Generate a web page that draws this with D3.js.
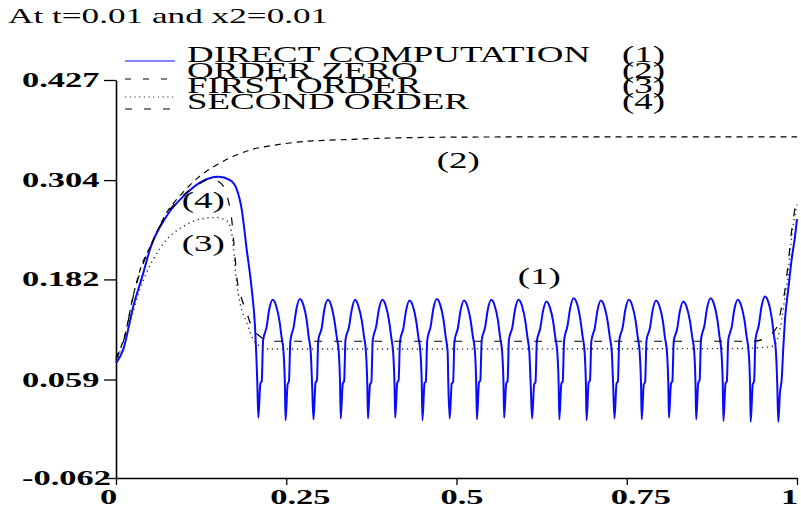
<!DOCTYPE html>
<html>
<head>
<meta charset="utf-8">
<script src="https://cdn.jsdelivr.net/npm/d3@7"></script>
<style>
  body { margin: 0; background: #fff; }
  text { font-family: "Liberation Serif", "Times New Roman", serif; fill: #000; }
</style>
</head>
<body>
<svg id="chart" width="801" height="512"></svg>
<script>
// ---- data ----
const title = "At t=0.01 and x2=0.01";

const xTickValues = [0, 0.25, 0.5, 0.75, 1];
const xTickLabels = ["0", "0.25", "0.5", "0.75", "1"];
const yTickValues = [-0.062, 0.059, 0.182, 0.304, 0.427];
const yTickLabels = ["-0.062", "0.059", "0.182", "0.304", "0.427"];

const legendNames = ["DIRECT COMPUTATION", "ORDER ZERO", "FIRST ORDER", "SECOND ORDER"];
const legendTags = ["(1)", "(2)", "(3)", "(4)"];

// curve tags written inside the plot (data coordinates)
const tagTexts = ["(1)", "(2)", "(3)", "(4)"];
const tagX = [0.590, 0.471, 0.0965, 0.0965];
const tagY = [0.176, 0.319, 0.217, 0.270];

// (1) direct computation
const directX = [
  0, 0.0107, 0.0254, 0.0401, 0.0499, 0.0744, 0.0988, 0.1233, 0.1502, 0.1674, 0.1772, 0.1846, 0.1919, 0.1993, 0.2041, 0.2075,
  0.209, 0.212, 0.214, 0.216, 0.221, 0.225, 0.230, 0.235, 0.240, 0.243, 0.246, 0.248,
  0.249, 0.252, 0.254, 0.256, 0.261, 0.265, 0.270, 0.275, 0.280, 0.283, 0.286, 0.288,
  0.290, 0.293, 0.295, 0.297, 0.302, 0.306, 0.311, 0.316, 0.321, 0.324, 0.327, 0.329,
  0.330, 0.333, 0.335, 0.337, 0.342, 0.346, 0.351, 0.356, 0.361, 0.364, 0.367, 0.369,
  0.370, 0.373, 0.375, 0.377, 0.382, 0.386, 0.391, 0.396, 0.401, 0.404, 0.407, 0.409,
  0.410, 0.413, 0.415, 0.417, 0.422, 0.426, 0.431, 0.436, 0.441, 0.444, 0.447, 0.449,
  0.450, 0.453, 0.455, 0.457, 0.462, 0.466, 0.471, 0.476, 0.481, 0.484, 0.487, 0.488,
  0.490, 0.493, 0.495, 0.497, 0.502, 0.506, 0.511, 0.516, 0.521, 0.524, 0.527, 0.529,
  0.530, 0.533, 0.535, 0.537, 0.542, 0.546, 0.551, 0.556, 0.561, 0.564, 0.567, 0.569,
  0.570, 0.573, 0.575, 0.577, 0.582, 0.586, 0.591, 0.596, 0.601, 0.604, 0.607, 0.609,
  0.611, 0.614, 0.616, 0.618, 0.623, 0.627, 0.632, 0.637, 0.642, 0.645, 0.648, 0.650,
  0.651, 0.654, 0.656, 0.658, 0.663, 0.667, 0.672, 0.677, 0.682, 0.685, 0.688, 0.690,
  0.691, 0.694, 0.696, 0.698, 0.703, 0.707, 0.712, 0.717, 0.722, 0.725, 0.728, 0.730,
  0.732, 0.735, 0.737, 0.739, 0.744, 0.748, 0.753, 0.758, 0.763, 0.766, 0.769, 0.771,
  0.772, 0.775, 0.777, 0.779, 0.784, 0.788, 0.793, 0.798, 0.803, 0.806, 0.809, 0.811,
  0.812, 0.815, 0.817, 0.819, 0.824, 0.828, 0.833, 0.838, 0.843, 0.846, 0.849, 0.851,
  0.852, 0.855, 0.857, 0.859, 0.864, 0.868, 0.873, 0.878, 0.883, 0.886, 0.889, 0.891,
  0.892, 0.895, 0.897, 0.899, 0.904, 0.908, 0.913, 0.918, 0.923, 0.926, 0.929, 0.931,
  0.932, 0.935, 0.937, 0.939, 0.944, 0.948, 0.953, 0.958, 0.963, 0.966, 0.969, 0.971,
  0.9725, 0.975, 0.9775, 0.980, 0.9824, 0.9872, 0.9922, 0.9971, 1.0
];
const directY = [
  0.079, 0.096, 0.149, 0.190, 0.219, 0.260, 0.284, 0.301, 0.308, 0.304, 0.293, 0.268, 0.219, 0.170, 0.124, 0.055,
  0.012, 0.054, 0.057, 0.107, 0.123, 0.145, 0.157, 0.150, 0.131, 0.112, 0.093, 0.053,
  0.009, 0.053, 0.057, 0.106, 0.124, 0.146, 0.158, 0.151, 0.132, 0.111, 0.092, 0.052,
  0.010, 0.055, 0.058, 0.107, 0.122, 0.145, 0.157, 0.150, 0.130, 0.112, 0.094, 0.054,
  0.011, 0.054, 0.057, 0.108, 0.123, 0.144, 0.157, 0.149, 0.131, 0.113, 0.093, 0.053,
  0.011, 0.053, 0.056, 0.107, 0.124, 0.145, 0.157, 0.150, 0.131, 0.112, 0.092, 0.052,
  0.012, 0.055, 0.058, 0.106, 0.122, 0.144, 0.156, 0.149, 0.130, 0.111, 0.093, 0.054,
  0.009, 0.054, 0.057, 0.107, 0.124, 0.146, 0.158, 0.151, 0.132, 0.112, 0.093, 0.053,
  0.011, 0.054, 0.056, 0.106, 0.122, 0.144, 0.156, 0.149, 0.130, 0.112, 0.094, 0.053,
  0.010, 0.055, 0.058, 0.107, 0.123, 0.145, 0.157, 0.150, 0.131, 0.111, 0.093, 0.054,
  0.012, 0.054, 0.057, 0.108, 0.123, 0.145, 0.157, 0.150, 0.131, 0.112, 0.092, 0.052,
  0.011, 0.053, 0.056, 0.106, 0.122, 0.143, 0.155, 0.148, 0.130, 0.111, 0.093, 0.053,
  0.010, 0.054, 0.057, 0.107, 0.125, 0.147, 0.159, 0.152, 0.132, 0.113, 0.094, 0.054,
  0.009, 0.055, 0.058, 0.106, 0.122, 0.144, 0.156, 0.149, 0.130, 0.112, 0.093, 0.053,
  0.011, 0.054, 0.057, 0.107, 0.123, 0.145, 0.157, 0.150, 0.131, 0.112, 0.092, 0.052,
  0.010, 0.053, 0.056, 0.107, 0.122, 0.144, 0.156, 0.149, 0.131, 0.111, 0.093, 0.054,
  0.012, 0.054, 0.057, 0.106, 0.121, 0.143, 0.155, 0.148, 0.130, 0.112, 0.094, 0.053,
  0.010, 0.055, 0.058, 0.108, 0.125, 0.147, 0.159, 0.152, 0.133, 0.113, 0.093, 0.053,
  0.008, 0.054, 0.057, 0.107, 0.123, 0.145, 0.157, 0.150, 0.131, 0.112, 0.093, 0.054,
  0.007, 0.053, 0.057, 0.108, 0.126, 0.149, 0.161, 0.154, 0.134, 0.114, 0.094, 0.053,
  0.007, 0.043, 0.059, 0.100, 0.133, 0.170, 0.207, 0.235, 0.256
];

// (2) order zero
const orderZeroX = [0, 0.0132, 0.025, 0.0367, 0.05, 0.0744, 0.0984, 0.1233, 0.1483, 0.1718, 0.1968, 0.2335, 0.2702, 0.3436, 0.417, 0.5639, 0.75, 1.0];
const orderZeroY = [0.086, 0.114, 0.161, 0.197, 0.222, 0.264, 0.289, 0.309, 0.323, 0.333, 0.341, 0.347, 0.351, 0.354, 0.356, 0.357, 0.357, 0.357];

// (3) first order
const firstOrderX = [0, 0.0029, 0.0206, 0.0352, 0.0543, 0.0744, 0.0988, 0.1233, 0.1479, 0.1626, 0.1699, 0.1722, 0.1747, 0.1772, 0.1821, 0.1919, 0.2016, 0.2115, 0.2213,
  0.9075, 0.9578, 0.9652, 0.9677, 0.9725, 0.9775, 0.9824, 0.9872, 0.9897, 0.9922, 0.9960, 1.0];
const firstOrderY = [0.081, 0.087, 0.129, 0.170, 0.206, 0.231, 0.247, 0.256, 0.258, 0.254, 0.239, 0.223, 0.198, 0.178, 0.153, 0.129, 0.108, 0.0997, 0.0965,
  0.097, 0.099, 0.100, 0.102, 0.112, 0.133, 0.161, 0.190, 0.215, 0.235, 0.256, 0.274];

// (4) second order
const secondOrderX = [0, 0.0132, 0.025, 0.0367, 0.05, 0.0744, 0.0984, 0.1233, 0.138, 0.1527, 0.1645, 0.1699, 0.1722, 0.1747, 0.1772, 0.1821, 0.1919, 0.2016, 0.2085, 0.2144, 0.2261,
  0.935, 0.9578, 0.9652, 0.9725, 0.9775, 0.9824, 0.9848, 0.9872, 0.9897, 0.9922, 0.9960, 1.0];
const secondOrderY = [0.083, 0.113, 0.160, 0.194, 0.221, 0.262, 0.285, 0.300, 0.305, 0.301, 0.280, 0.256, 0.235, 0.211, 0.186, 0.166, 0.141, 0.120, 0.114, 0.110, 0.106,
  0.106, 0.112, 0.117, 0.1285, 0.149, 0.1695, 0.186, 0.202, 0.223, 0.243, 0.264, 0.2825];

const series = [
  d3.zip(directX, directY),
  d3.zip(orderZeroX, orderZeroY),
  d3.zip(firstOrderX, firstOrderY),
  d3.zip(secondOrderX, secondOrderY)
];

// ---- styling ----
const lineStyles = [
  { stroke: "#0a0aff", width: 2, dash: null, legendDash: null, legendWidth: 1.1 },
  { stroke: "#000", width: 1.2, dash: "6,5", legendDash: "6,12", legendWidth: 1.1 },
  { stroke: "#333", width: 1.4, dash: "1.3,3.7", legendDash: "1.2,3.5", legendWidth: 1.2 },
  { stroke: "#000", width: 1.2, dash: "8,12", legendDash: "7,12", legendWidth: 1.1 }
];
const legendTextY = [61.5, 77.5, 93, 108.5];
const legendLineY = [61, 79, 97, 109];
const stretch = 1.64; // glyphs in the original are drawn wide

const svg = d3.select("#chart");

let x = d3.scaleLinear().domain([0, 1]).range([116, 797]);
let y = d3.scaleLinear().domain([-0.062, 0.427]).range([478, 80]);

// title
svg.append("text")
   .attr("transform", `translate(8,23) scale(1.6,1)`)
   .style("font-size", "22px")
   .text(title);

// axes
let xAxis = svg.append("g")
   .attr("transform", "translate(0,478)")
   .call(d3.axisBottom(x).tickValues(xTickValues).tickSize(7).tickSizeOuter(0).tickFormat(""));
let yAxis = svg.append("g")
   .attr("transform", "translate(116,0)")
   .call(d3.axisLeft(y).tickValues(yTickValues).tickSize(12).tickSizeOuter(0).tickFormat(""));
[xAxis, yAxis].forEach(g => {
  g.select(".domain").attr("stroke", "#000").attr("stroke-width", 1.6);
  g.selectAll(".tick line").attr("stroke", "#000").attr("stroke-width", 1.3);
});

svg.append("g")
   .selectAll("text")
   .data(xTickValues)
   .join("text")
   .attr("transform", d => `translate(${x(d) - 16},504) scale(${stretch},1)`)
   .style("font-size", "21px")
   .style("font-weight", "bold")
   .text((d, i) => xTickLabels[i]);

svg.append("g")
   .selectAll("text")
   .data(yTickValues)
   .join("text")
   .attr("transform", d => `translate(22,${y(d) + 7}) scale(${stretch},1)`)
   .style("font-size", "21px")
   .style("font-weight", "bold")
   .text((d, i) => yTickLabels[i]);

// curves
let line = d3.line()
   .x(d => x(d[0]))
   .y(d => y(d[1]))
   .curve(d3.curveMonotoneX);

svg.append("g")
   .selectAll("path")
   .data(series)
   .join("path")
   .attr("d", line)
   .attr("fill", "none")
   .attr("stroke", (d, i) => lineStyles[i].stroke)
   .attr("stroke-width", (d, i) => lineStyles[i].width)
   .attr("stroke-dasharray", (d, i) => lineStyles[i].dash)
   .attr("stroke-linejoin", "round");

// tags inside the plot
svg.append("g")
   .selectAll("text")
   .data(tagTexts)
   .join("text")
   .attr("transform", (d, i) => `translate(${x(tagX[i])},${y(tagY[i])}) scale(${stretch},1)`)
   .style("font-size", "22.5px")
   .text(d => d);

// legend
let legend = svg.append("g");
legend.selectAll("line")
   .data(legendNames)
   .join("line")
   .attr("x1", 125).attr("x2", 175)
   .attr("y1", (d, i) => legendLineY[i]).attr("y2", (d, i) => legendLineY[i])
   .attr("stroke", (d, i) => lineStyles[i].stroke)
   .attr("stroke-width", (d, i) => lineStyles[i].legendWidth)
   .attr("stroke-dasharray", (d, i) => lineStyles[i].legendDash);
legend.selectAll("text.name")
   .data(legendNames)
   .join("text")
   .attr("class", "name")
   .attr("transform", (d, i) => `translate(187,${legendTextY[i]}) scale(${stretch},1)`)
   .style("font-size", "22.5px")
   .text(d => d);
legend.selectAll("text.tag")
   .data(legendTags)
   .join("text")
   .attr("class", "tag")
   .attr("transform", (d, i) => `translate(622,${legendTextY[i]}) scale(${stretch},1)`)
   .style("font-size", "22.5px")
   .text(d => d);
</script>
</body>
</html>
